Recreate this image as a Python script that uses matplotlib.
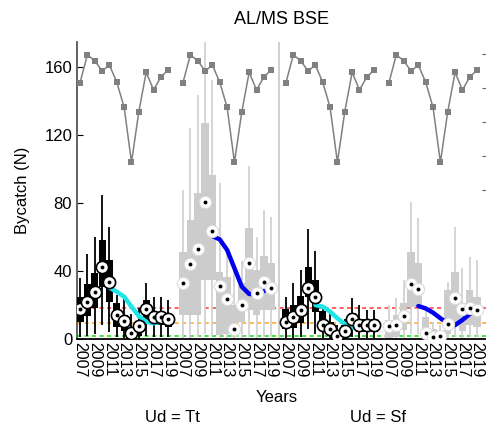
import numpy as np
import matplotlib
matplotlib.use("Agg")
import matplotlib.pyplot as plt

plt.rcParams['font.family'] = ['Liberation Sans', 'DejaVu Sans']

years = list(range(2007, 2020))
tick_years = [2007, 2009, 2011, 2013, 2015, 2017, 2019]
panels = ["Ud = Tt", "Ud = Sf"]

# ---- Ud = Tt, black series ----
tt_a_mid = [17.5, 21.9, 27.8, 42.5, 33.7, 14.1, 10.6, 3.3, 7.6, 17.5, 13.1, 13.1, 11.8]
tt_a_q1 = [10.2, 13.5, 18.0, 30.8, 21.9, 7.2, 5.0, 0.5, 2.0, 10.0, 8.0, 8.0, 7.0]
tt_a_q3 = [24.5, 32.4, 38.6, 58.2, 46.5, 21.0, 14.0, 6.0, 10.0, 23.0, 16.0, 16.0, 15.0]
tt_a_lo = [1.4, 2.0, 3.0, 8.0, 4.0, 1.0, 0.5, 0.0, 0.0, 2.0, 1.0, 1.0, 1.0]
tt_a_hi = [35.7, 50.0, 60.2, 84.7, 65.7, 25.9, 24.0, 15.0, 18.0, 32.7, 24.9, 24.9, 23.0]
tt_a_trend = [30.2, 27.8, 24.9, 19.0, 13.5, 10.2, 9.2, 10.2, 12.2]

# ---- Ud = Tt, grey series ----
tt_b_mid = [32.7, 43.9, 52.9, 80.4, 63.7, 31.2, 23.3, 5.9, 20.0, 44.5, 27.3, 33.7, 30.2]
tt_b_q1 = [14.0, 14.0, 14.0, 34.7, 34.7, 2.4, 3.0, 1.0, 10.2, 17.0, 14.0, 17.0, 17.0]
tt_b_q3 = [51.4, 70.0, 85.7, 126.9, 96.5, 39.6, 36.7, 20.0, 32.7, 65.1, 40.6, 48.8, 44.5]
tt_b_lo = [0.5, 0.5, 1.0, 3.0, 2.0, 0.0, 0.0, 0.0, 0.5, 1.0, 0.5, 1.0, 1.0]
tt_b_hi = [87.6, 124.0, 143.5, 200.0, 152.4, 91.6, 52.0, 40.0, 46.0, 102.0, 60.0, 75.9, 72.0]
tt_b_trend = [60.6, 58.6, 52.4, 41.6, 30.8, 26.5, 26.3, 28.2, 31.8]

# ---- Ud = Sf, black series ----
sf_a_mid = [9.8, 13.1, 17.0, 29.8, 24.9, 8.2, 5.7, 1.9, 4.7, 11.8, 8.2, 8.2, 8.2]
sf_a_q1 = [6.0, 6.3, 9.4, 24.9, 16.0, 5.0, 2.0, 0.5, 1.0, 7.0, 4.0, 4.0, 4.0]
sf_a_q3 = [17.6, 20.0, 25.3, 42.5, 34.7, 16.5, 10.0, 4.0, 8.0, 15.5, 12.0, 12.0, 12.0]
sf_a_lo = [0.5, 0.5, 1.0, 6.0, 3.0, 0.5, 0.0, 0.0, 0.0, 1.0, 0.5, 0.5, 0.5]
sf_a_hi = [24.9, 32.7, 40.6, 64.5, 51.8, 20.0, 16.0, 8.0, 12.0, 23.9, 20.0, 17.0, 17.0]
sf_a_trend = [20.0, 19.0, 16.1, 12.2, 8.8, 6.9, 6.7, 7.3, 7.8]

# ---- Ud = Sf, grey series ----
sf_b_mid = [7.8, 8.2, 13.5, 32.4, 29.2, 3.7, 1.4, 1.8, 9.0, 24.3, 17.6, 18.0, 17.0]
sf_b_q1 = [0.5, 1.0, 5.3, 19.0, 19.0, 0.5, 0.2, 0.2, 3.0, 8.0, 5.0, 8.0, 7.0]
sf_b_q3 = [11.2, 14.0, 21.4, 51.0, 44.9, 13.1, 6.0, 5.0, 28.8, 39.6, 21.4, 28.8, 24.9]
sf_b_lo = [0.0, 0.0, 0.5, 3.0, 3.0, 0.0, 0.0, 0.0, 0.0, 1.0, 0.5, 1.0, 1.0]
sf_b_hi = [20.0, 24.0, 34.7, 80.8, 71.0, 18.0, 10.0, 8.0, 33.7, 66.0, 41.6, 48.4, 46.5]
sf_b_trend = [19.4, 18.0, 15.5, 12.2, 9.2, 8.2, 11.2, 14.7, 18.6]

trend_years = list(range(2011, 2020))

# reference lines
ref_red = 18.4
ref_orange = 9.2
ref_green = 1.9

# grey line on right axis (repeated per block)
right_series = [0.831, 0.994, 0.961, 0.900, 0.934, 0.834, 0.686, 0.363, 0.661, 0.892, 0.788, 0.865, 0.906]
right_ticks = [0.2, 0.4, 0.6, 0.8, 1.0]

fig = plt.figure(figsize=(4.86, 4.30), dpi=100)
L, R = 77 / 486, 486 / 486
B, T = 1 - 339 / 430, 1 - 41.7 / 430
ax = fig.add_axes([L, B, R - L, T - B])
XLIM = (-0.41, 55.2)
ax.set_xlim(*XLIM)
ax.set_ylim(0, 175)

yr = np.array(years)
blocks = [
    (0, tt_a_q1, tt_a_q3, tt_a_lo, tt_a_hi, tt_a_mid, tt_a_trend, 'black'),
    (14, tt_b_q1, tt_b_q3, tt_b_lo, tt_b_hi, tt_b_mid, tt_b_trend, 'grey'),
    (28, sf_a_q1, sf_a_q3, sf_a_lo, sf_a_hi, sf_a_mid, sf_a_trend, 'black'),
    (42, sf_b_q1, sf_b_q3, sf_b_lo, sf_b_hi, sf_b_mid, sf_b_trend, 'grey'),
]

# reference dashed lines
for val, col in [(ref_red, '#ff4a4a'), (ref_orange, '#ffaa33'), (ref_green, '#22dd22')]:
    ax.axhline(val, color=col, lw=1.2, ls=(0, (2.5, 2)), zorder=1)

ax.axvline(27, color='#cccccc', lw=1.3, zorder=1.2)

for off, q1, q3, lo, hi, mid, trend, kind in blocks:
    x = yr - 2007 + off
    q1 = np.array(q1); q3 = np.array(q3)
    if kind == 'black':
        wc, bc = 'black', 'black'
        ec, elw = 'black', 1.2
        tcol = '#1ee6e6'
    else:
        wc, bc = '#d2d2d2', '#cccccc'
        ec, elw = '#dcdcdc', 0.8
        tcol = '#0000ee'
    ax.vlines(x, lo, hi, color=wc, lw=1.3, zorder=2)
    ax.bar(x, q3 - q1, bottom=q1, width=1.0 if kind == 'grey' else 0.95,
           color=bc, edgecolor='none', zorder=3)
    tx = np.array(trend_years) - 2007 + off
    ax.plot(tx, trend, color=tcol, lw=3.2, solid_capstyle='round',
            solid_joinstyle='round', zorder=4)
    for xi, mi in zip(x, mid):
        ax.plot([xi], [mi], 'o', ms=8.8, mfc='white', mec=ec, mew=elw, zorder=5)
        ax.plot([xi], [mi], 'o', ms=2.8, mfc='black', mec='black', mew=0, zorder=5.1)

ticks = []
labels = []
for off in [0, 14, 28, 42]:
    for ty in tick_years:
        ticks.append(ty - 2007 + off)
        labels.append(str(ty))
ax.set_xticks(ticks)
ax.set_xticklabels(labels, rotation=270, fontsize=11.5)
ax.set_yticks([0, 40, 80, 120, 160])
ax.tick_params(axis='y', direction='in', length=4, labelsize=12, colors='black')
ax.tick_params(axis='x', direction='in', length=0, pad=2)
for s in ['top', 'right']:
    ax.spines[s].set_visible(False)
ax.spines['left'].set_color('#555555')
ax.spines['left'].set_linewidth(1.3)
ax.spines['bottom'].set_color('black')
ax.spines['bottom'].set_linewidth(1.3)

ax2 = ax.twinx()
ax2.set_ylim(-0.676, 1.072)
ax2.set_xlim(*XLIM)
for off in [0, 14, 28, 42]:
    x = yr - 2007 + off
    ax2.plot(x, right_series, '-s', color='#808080', lw=1.1, ms=4.0, mew=0)
ax2.set_yticks(right_ticks)
ax2.set_yticklabels([])
ax2.tick_params(axis='y', direction='in', length=3, colors='#666666')
for s in ['top', 'right', 'left', 'bottom']:
    ax2.spines[s].set_visible(False)

fig.text(0.5 * (L + R), 1 - 20 / 430, "AL/MS BSE", ha='center', va='center', fontsize=13)
fig.text(22 / 486, 0.5 * (B + T), "Bycatch (N)", rotation=90, ha='center', va='center', fontsize=12)
fig.text(277 / 486, 1 - 397 / 430, "Years", ha='center', va='center', fontsize=12)
fig.text(172 / 486, 1 - 417.5 / 430, panels[0], ha='center', va='center', fontsize=12)
fig.text(378 / 486, 1 - 417.5 / 430, panels[1], ha='center', va='center', fontsize=12)

fig.savefig("out.png", dpi=100)
